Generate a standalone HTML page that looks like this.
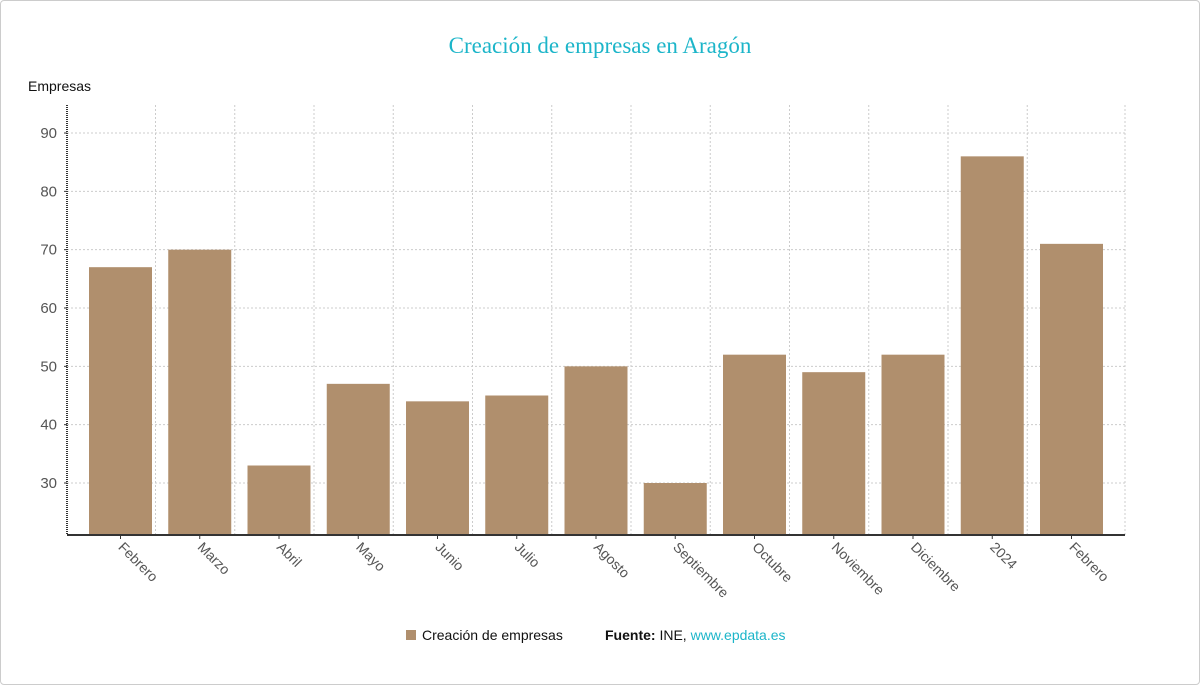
<!DOCTYPE html>
<html><head><meta charset="utf-8"><style>
body{margin:0;background:#fff;}
#frame{position:absolute;left:0;top:0;width:1198px;height:683px;border:1px solid #ccc;border-radius:4px;}
svg{position:absolute;left:0;top:0;}
text{font-family:"Liberation Sans",sans-serif;}
</style></head><body>
<div id="frame"></div>
<svg id="chart" width="1200" height="685">
<text x="600" y="53" text-anchor="middle" style="font-family:'Liberation Serif',serif" font-size="23" fill="#1cb5c9">Creación de empresas en Aragón</text>
<text x="28" y="91" font-size="14" fill="#111">Empresas</text>
<g id="grid"></g><g id="bars"></g><g id="axes"></g>
<g>
<rect x="406" y="630" width="10" height="10" fill="#b08f6d"/>
<text x="422" y="640" font-size="14" fill="#111">Creación de empresas</text>
<text x="605" y="640" font-size="14" fill="#111"><tspan font-weight="bold">Fuente:</tspan> INE, <tspan fill="#1cb5c9">www.epdata.es</tspan></text>
</g>
</svg>
<script>
const categories=["Febrero","Marzo","Abril","Mayo","Junio","Julio","Agosto","Septiembre","Octubre","Noviembre","Diciembre","2024","Febrero"];
const values=[67,70,33,47,44,45,50,30,52,49,52,86,71];
const yTicks=[30,40,50,60,70,80,90];
const NS="http://www.w3.org/2000/svg";
const pLeft=67,pRight=1125,pTop=105,pBottom=535;
function yPos(v){return 483-(v-30)*5.833;}
function xc(i){return 120.5+i*79.25;}
function mk(tag,attrs,parent){const e=document.createElementNS(NS,tag);for(const k in attrs)e.setAttribute(k,attrs[k]);document.getElementById(parent).appendChild(e);return e;}
yTicks.forEach(t=>{
 const l=mk('line',{x1:pLeft,x2:pRight,y1:yPos(t),y2:yPos(t),stroke:'#ccc','stroke-dasharray':'2,2'},'grid');
 
 
 const tx=mk('text',{x:57,y:yPos(t)+5,'text-anchor':'end','font-size':15,fill:'#555'},'axes');
 tx.textContent=t;
 
 
 mk('line',{x1:64,x2:67,y1:yPos(t),y2:yPos(t),stroke:'#333'},'axes');
});
categories.forEach((c,i)=>{
 const gx=i<categories.length-1?xc(i)+35:pRight;
 const g=mk('line',{x1:gx,x2:gx,y1:pTop,y2:pBottom,stroke:'#ccc','stroke-dasharray':'2,2'},'grid');
 
 
 const b=mk('rect',{x:xc(i)-31.5,y:yPos(values[i]),width:63,height:pBottom-yPos(values[i]),fill:'#b08f6d'},'bars');
 
 
 mk('line',{x1:xc(i),x2:xc(i),y1:pBottom,y2:pBottom+4,stroke:'#333'},'axes');
 const t=mk('text',{x:0,y:0,'font-size':14,fill:'#555',transform:`translate(${xc(i)-3},${pBottom+13}) rotate(45)`},'axes');
 t.textContent=c;
 
 
});
const ya=mk('line',{x1:pLeft,x2:pLeft,y1:pTop,y2:pBottom,stroke:'#333','stroke-width':2,'stroke-dasharray':'1,1'},'axes');


const xa=mk('line',{x1:pLeft,x2:pRight,y1:pBottom,y2:pBottom,stroke:'#333','stroke-width':2},'axes');


</script>
</body></html>
